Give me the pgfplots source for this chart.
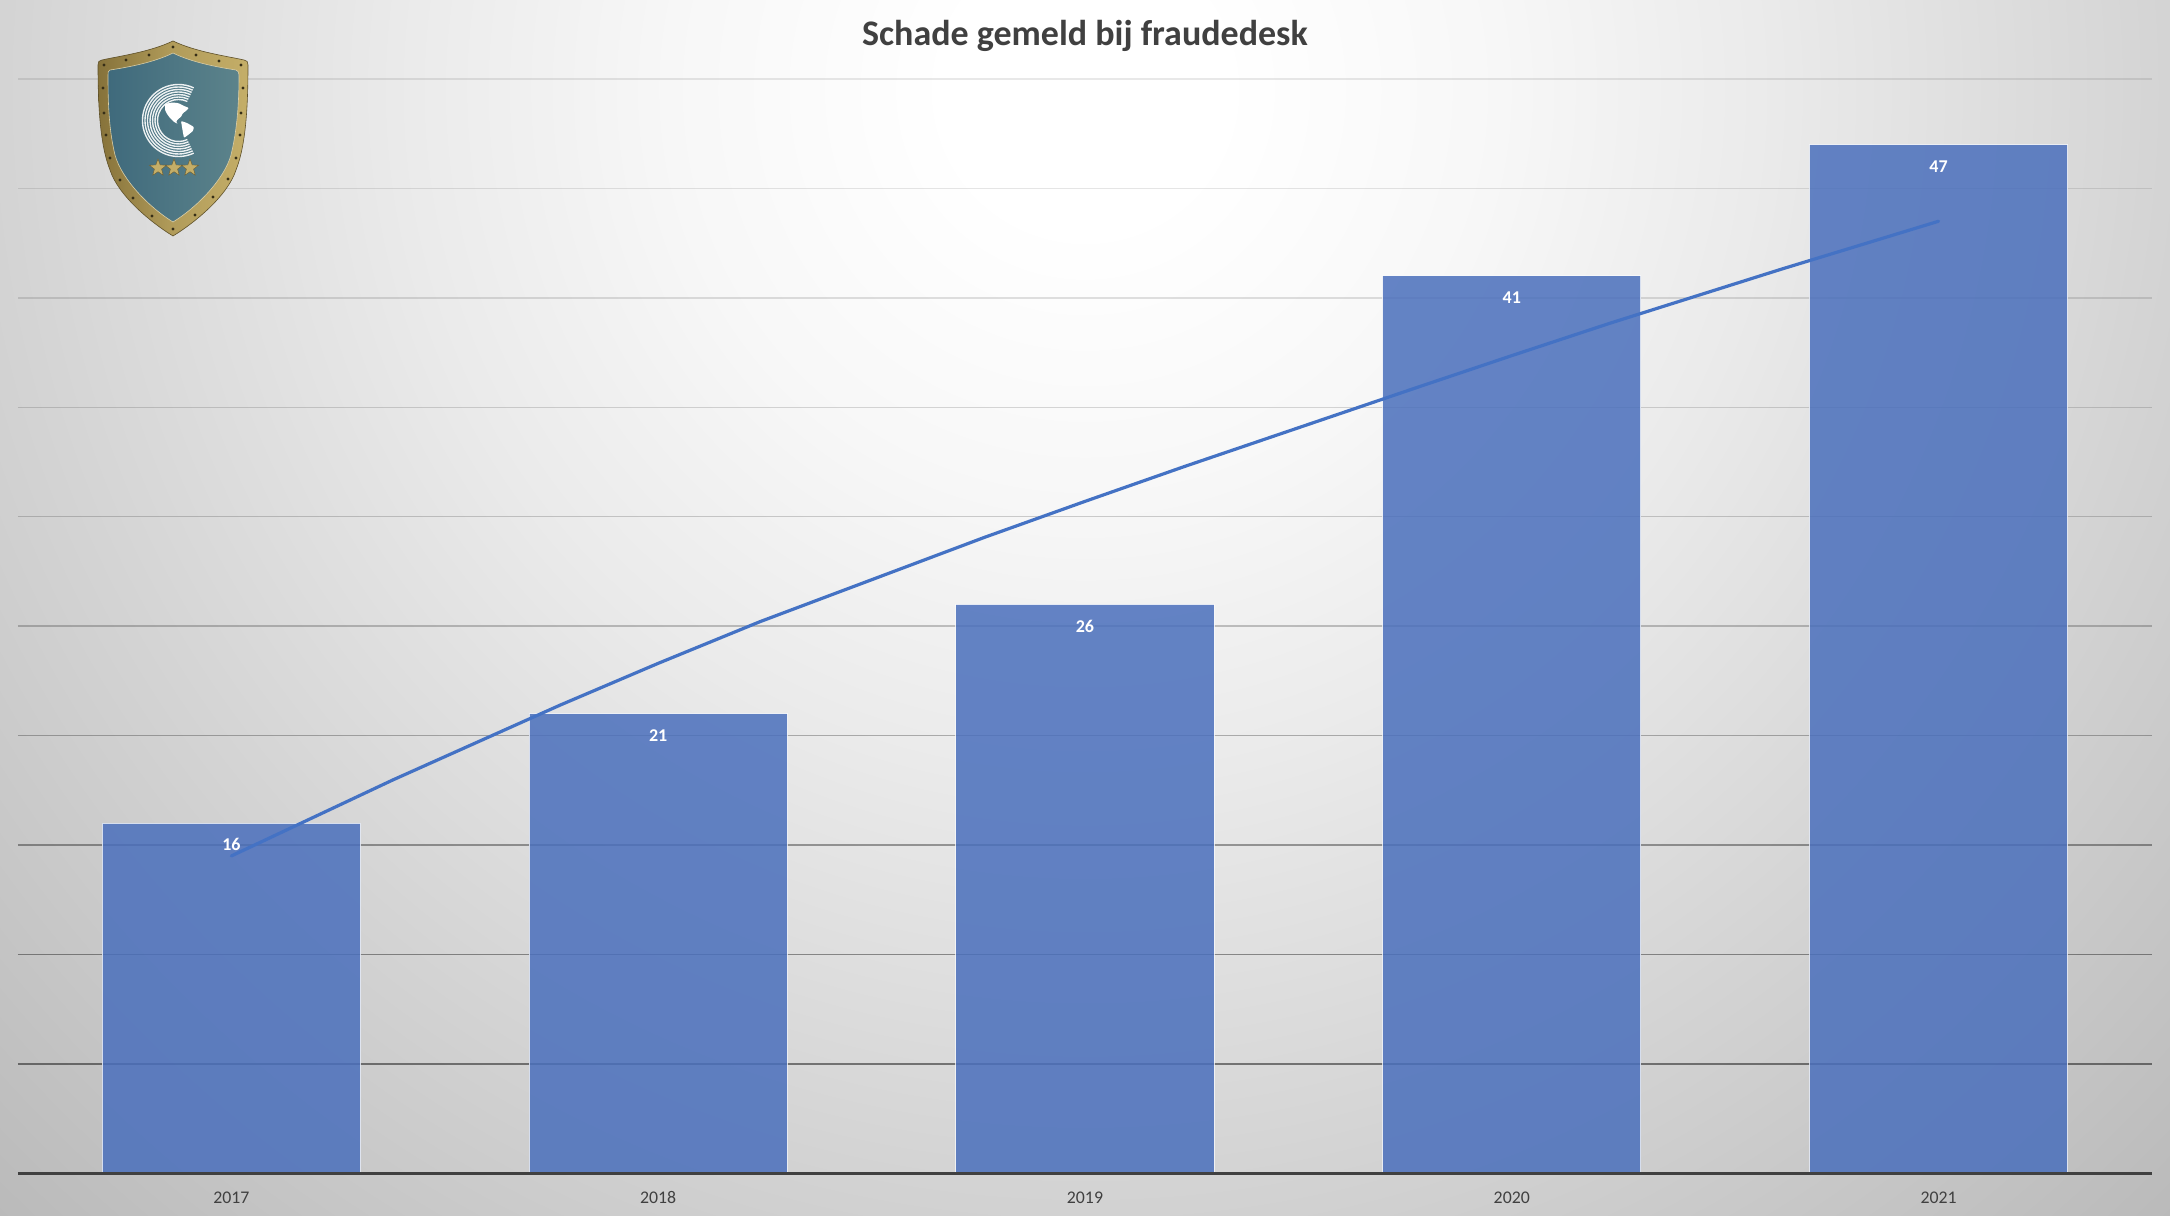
\documentclass[border=0pt]{standalone}
\usepackage{fontspec}
\setmainfont{Carlito}
\usepackage{pgfplots}
\pgfplotsset{compat=1.18}
\usepackage{pgfplotstable}
\usetikzlibrary{shapes.geometric}
\definecolor{txt}{HTML}{404040}
\definecolor{barfill}{HTML}{4A6FBC}
\definecolor{trend}{HTML}{4472C4}
\definecolor{goldA}{HTML}{86723A}
\definecolor{goldB}{HTML}{C4AE68}
\definecolor{tealA}{HTML}{3F6A7C}
\definecolor{tealB}{HTML}{5C838B}
\pgfdeclareradialshading{bgshade}{\pgfpoint{0bp}{0bp}}{%
 color(0bp)=(white);
 color(2bp)=(white);
 color(6bp)=(black!3);
 color(10bp)=(black!8);
 color(16bp)=(black!17);
 color(23bp)=(black!27);
 color(25bp)=(black!29);
 color(50bp)=(black!29)}
\pgfplotstableread{
x y
0 16
1 21
2 26
3 41
4 47
}\barsdata
\pgfplotstableread{
x y
0 14.5
0.378 17.97
0.77 21.39
1 23.3
1.238 25.2
1.765 29.06
2 30.7
2.234 32.3
2.762 35.8
3 37.36
3.23 38.84
3.63 41.3
4 43.5
}\trenddata
\begin{document}
\begin{tikzpicture}[x=1pt,y=1pt]
\path[use as bounding box] (0,0) rectangle (1085,608);
\begin{scope}
\clip (0,0) rectangle (1085,608);
\path[shading=bgshade] (-307.5,-287) rectangle (1392.5,1413);
\end{scope}
\begin{axis}[
  at={(9pt,21.35pt)}, anchor=south west,
  scale only axis,
  width=1067pt, height=547.15pt,
  xmin=-0.5, xmax=4.5, ymin=0, ymax=50,
  axis x line=bottom, axis y line=none,
  axis on top,
  axis line style={-, draw=txt, line width=1.5pt},
  xtick=data, xticklabels={2017,2018,2019,2020,2021},
  xtick style={draw=none},
  xticklabel style={font=\fontsize{8.9}{10}\selectfont, text=txt, anchor=center, yshift=-12pt},
  xtick align=outside, major tick length=0pt,
  clip=false,
  title={Schade gemeld bij fraudedesk},
  title style={at={(0.5,1)}, anchor=center, yshift=15.5pt, font=\fontsize{18}{20}\selectfont\bfseries, text=txt},
  /pgf/number format/assume math mode=true,
]
\foreach \v/\o in {5/.47,10/.40,15/.36,20/.28,25/.22,30/.18,35/.15,40/.12,45/.10,50/.09}{
  \edef\tmp{\noexpand\draw[black, draw opacity=\o, line width=0.75pt] (axis cs:-0.5,\v) -- (axis cs:4.5,\v);}
  \tmp
}
\addplot[ybar, bar width=129.15pt, fill=barfill, fill opacity=.85, draw=white, draw opacity=.75, line width=0.5pt,
  nodes near coords,
  nodes near coords style={anchor=center, yshift=-10.9pt, text=white, text opacity=1, fill opacity=0, draw opacity=0,
    font=\fontsize{9}{10}\selectfont\bfseries}]
  table[x=x,y=y] {\barsdata};
\addplot[trend, line width=1.6pt, line cap=round, no markers] table[x=x,y=y] {\trenddata};
\end{axis}
% logo
\begin{scope}[shift={(0,608)},x=0.5pt,y=-0.5pt]
\path[left color=goldA, right color=goldB, middle color=goldB!70!goldA, draw=goldA!70!black, line width=0.3pt]
 (173,41) .. controls (150,52) and (120,56) .. (102,60) .. controls (99,60) and (98,62) .. (98,65)
 .. controls (98,105) and (100,145) .. (110,170) .. controls (118,195) and (150,222) .. (173,236)
 .. controls (196,222) and (228,195) .. (236,170) .. controls (246,145) and (248,105) .. (248,65)
 .. controls (248,62) and (247,60) .. (244,60) .. controls (226,56) and (196,52) .. (173,41) -- cycle;
\path[left color=tealA, right color=tealB, draw=goldB!60!white, line width=0.3pt]
 (173,53) .. controls (155,62) and (130,67) .. (110,70) .. controls (108,71) and (108,72) .. (108,75)
 .. controls (108,105) and (109,130) .. (115,155) .. controls (122,180) and (150,208) .. (173,222)
 .. controls (196,208) and (224,180) .. (231,155) .. controls (237,130) and (239,105) .. (239,75)
 .. controls (239,72) and (238,71) .. (236,70) .. controls (216,67) and (191,62) .. (173,53) -- cycle;
\foreach \r in {21,23.5,26,28.5,31,33.5,36}{
  \draw[white, line width=0.7pt, opacity=.9] ({178.5+\r*cos(65)},{120.5+\r*sin(65)}) arc[start angle=65, end angle=295, radius=\r];
}
\fill[white, rounded corners=0.5pt] (165,104) -- (172,102.5) -- (178,103) -- (184,106) -- (189,108) -- (186,111) -- (183,113) -- (181,117) -- (178,119) -- (176,122) -- (178,124) -- (174,122) -- (170,118) -- (167,114) -- (165,110) -- cycle;
\fill[white, rounded corners=0.5pt] (181,121) -- (187,123) -- (194,127) -- (193,131) -- (188,135) -- (184,138) -- (183,133) -- (182,127) -- cycle;
\foreach \px in {158,174,190}{
  \node[star, star points=5, star point ratio=2.4, fill=goldB, draw=goldA!80!black, line width=0.2pt, inner sep=0pt, minimum size=9pt] at (\px,168) {};
}
\foreach \px/\py in {104/65,126/60,149/55,173/47,196/55,219/61,241/65,
  103/88,104/113,106/135,110/158,120/180,133/198,152/216,173/229,195/215,213/197,228/179,236/158,240/135,241/113,243/88}{
  \fill[black!60!goldA] (\px,\py) circle (1.7);
}
\end{scope}
\end{tikzpicture}
\end{document}
